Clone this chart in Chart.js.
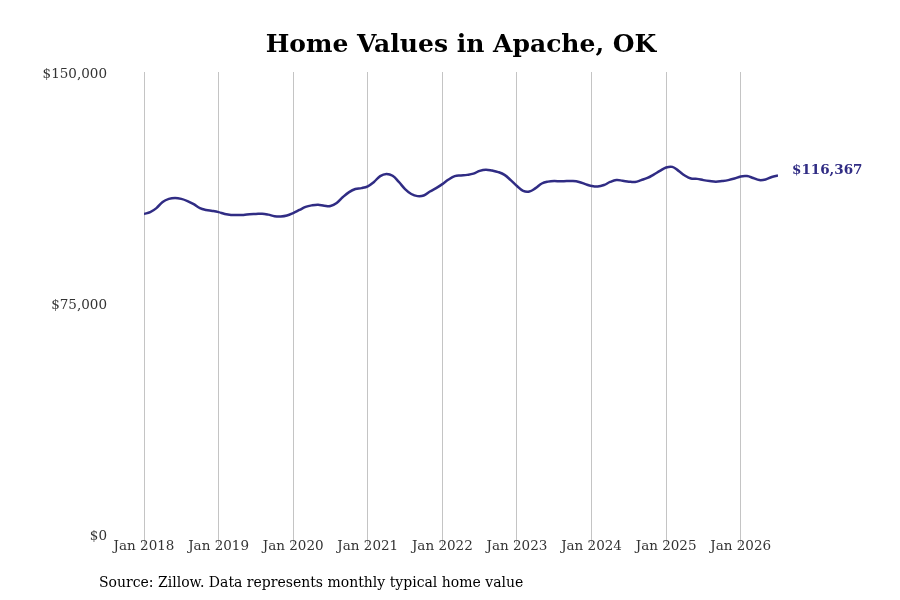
<!DOCTYPE html>
<html>
<head>
<meta charset="utf-8">
<title>Home Values in Apache, OK</title>
<script src="https://cdn.jsdelivr.net/npm/chart.js@4.4.1/dist/chart.umd.min.js"></script>
<style>
  body { margin: 0; background: #fff; }
  #wrap { width: 900px; height: 600px; }
</style>
</head>
<body>
<div id="wrap"><canvas id="myChart"></canvas></div>
<script>
// monthly typical home value, Jan 2018 .. Jul 2026
const homeValues = [
  103900, 104500, 105800, 107800, 108800, 109100, 108800, 108100, 107100, 105800, 105200, 104900,
  104500, 103900, 103600, 103600, 103600, 103800, 103900, 104000, 103700, 103200, 103100, 103400,
  104200, 105200, 106200, 106700, 106900, 106600, 106500, 107500, 109400, 111000, 112000, 112300,
  112900, 114300, 116200, 116900, 116300, 114300, 112000, 110400, 109700, 109900, 111200, 112300,
  113600, 115100, 116200, 116400, 116600, 117000, 117900, 118300, 118000, 117500, 116600, 114900,
  113000, 111400, 111200, 112300, 113800, 114400, 114600, 114500, 114600, 114600, 114300, 113600,
  113000, 112800, 113300, 114300, 114900, 114700, 114400, 114300, 114900, 115600, 116700, 117900,
  119000, 119200, 117900, 116400, 115400, 115300, 114900, 114600, 114400, 114600, 114900, 115400,
  116100, 116200, 115600, 114900, 115100, 115900, 116367
];
const xTickLabels = ["Jan 2018", "Jan 2019", "Jan 2020", "Jan 2021", "Jan 2022",
  "Jan 2023", "Jan 2024", "Jan 2025", "Jan 2026"];
const yTickValues = [0, 75000, 150000];
const lastLabel = "$116,367";

const chartTitle = "Home Values in Apache, OK";
const sourceText = "Source: Zillow. Data represents monthly typical home value";

const lineColor = "#302c84";
const serif = "'DejaVu Serif', serif";

let points = homeValues.map((v, i) => ({ x: i, y: v }));

const textPlugin = {
  id: "texts",
  afterDraw(chart) {
    const ctx = chart.ctx;
    const area = chart.chartArea;
    ctx.save();
    // title
    ctx.fillStyle = "#000";
    ctx.font = "bold 25px " + serif;
    ctx.textAlign = "center";
    ctx.textBaseline = "middle";
    ctx.fillText(chartTitle, (area.left + area.right) / 2, 45);
    // source
    ctx.font = "14px " + serif;
    ctx.textAlign = "left";
    ctx.fillText(sourceText, 99, 583);
    // last value label
    const meta = chart.getDatasetMeta(0);
    const last = meta.data[meta.data.length - 1];
    ctx.fillStyle = lineColor;
    ctx.font = "bold 13.5px " + serif;
    ctx.fillText(lastLabel, last.x + 14, last.y - 5);
    ctx.restore();
  }
};

new Chart("myChart", {
  type: "line",
  data: {
    datasets: [
      {
        data: points,
        borderColor: lineColor,
        borderWidth: 2.5,
        pointRadius: 0,
        tension: 0.4,
        fill: false,
      },
    ],
  },
  options: {
    responsive: true,
    maintainAspectRatio: false,
    animation: false,
    layout: { padding: { left: 0, top: 72, right: 122, bottom: 0 } },
    plugins: {
      legend: { display: false },
      tooltip: { enabled: false },
    },
    scales: {
      x: {
        type: "linear",
        min: 0,
        max: homeValues.length - 1,
        afterBuildTicks: (scale) => {
          scale.ticks = xTickLabels.map((t, i) => ({ value: i * 12 }));
        },
        afterFit: (scale) => { scale.height = 66; },
        grid: { color: "#c4c4c4", lineWidth: 1, tickLength: 11, drawOnChartArea: true },
        border: { display: false },
        ticks: {
          padding: -7,
          maxRotation: 0,
          autoSkip: false,
          color: "#333",
          font: { family: serif, size: 13.5 },
          callback: (v) => xTickLabels[v / 12],
        },
      },
      y: {
        min: 0,
        max: 150000,
        afterBuildTicks: (scale) => {
          scale.ticks = yTickValues.map((v) => ({ value: v }));
        },
        afterFit: (scale) => { scale.width = 144; },
        grid: { display: false },
        border: { display: false },
        ticks: {
          padding: 29,
          labelOffset: 2,
          color: "#333",
          font: { family: serif, size: 13.5 },
          callback: (v) => "$" + v.toLocaleString("en-US"),
        },
      },
    },
  },
  plugins: [textPlugin],
});
</script>
</body>
</html>
